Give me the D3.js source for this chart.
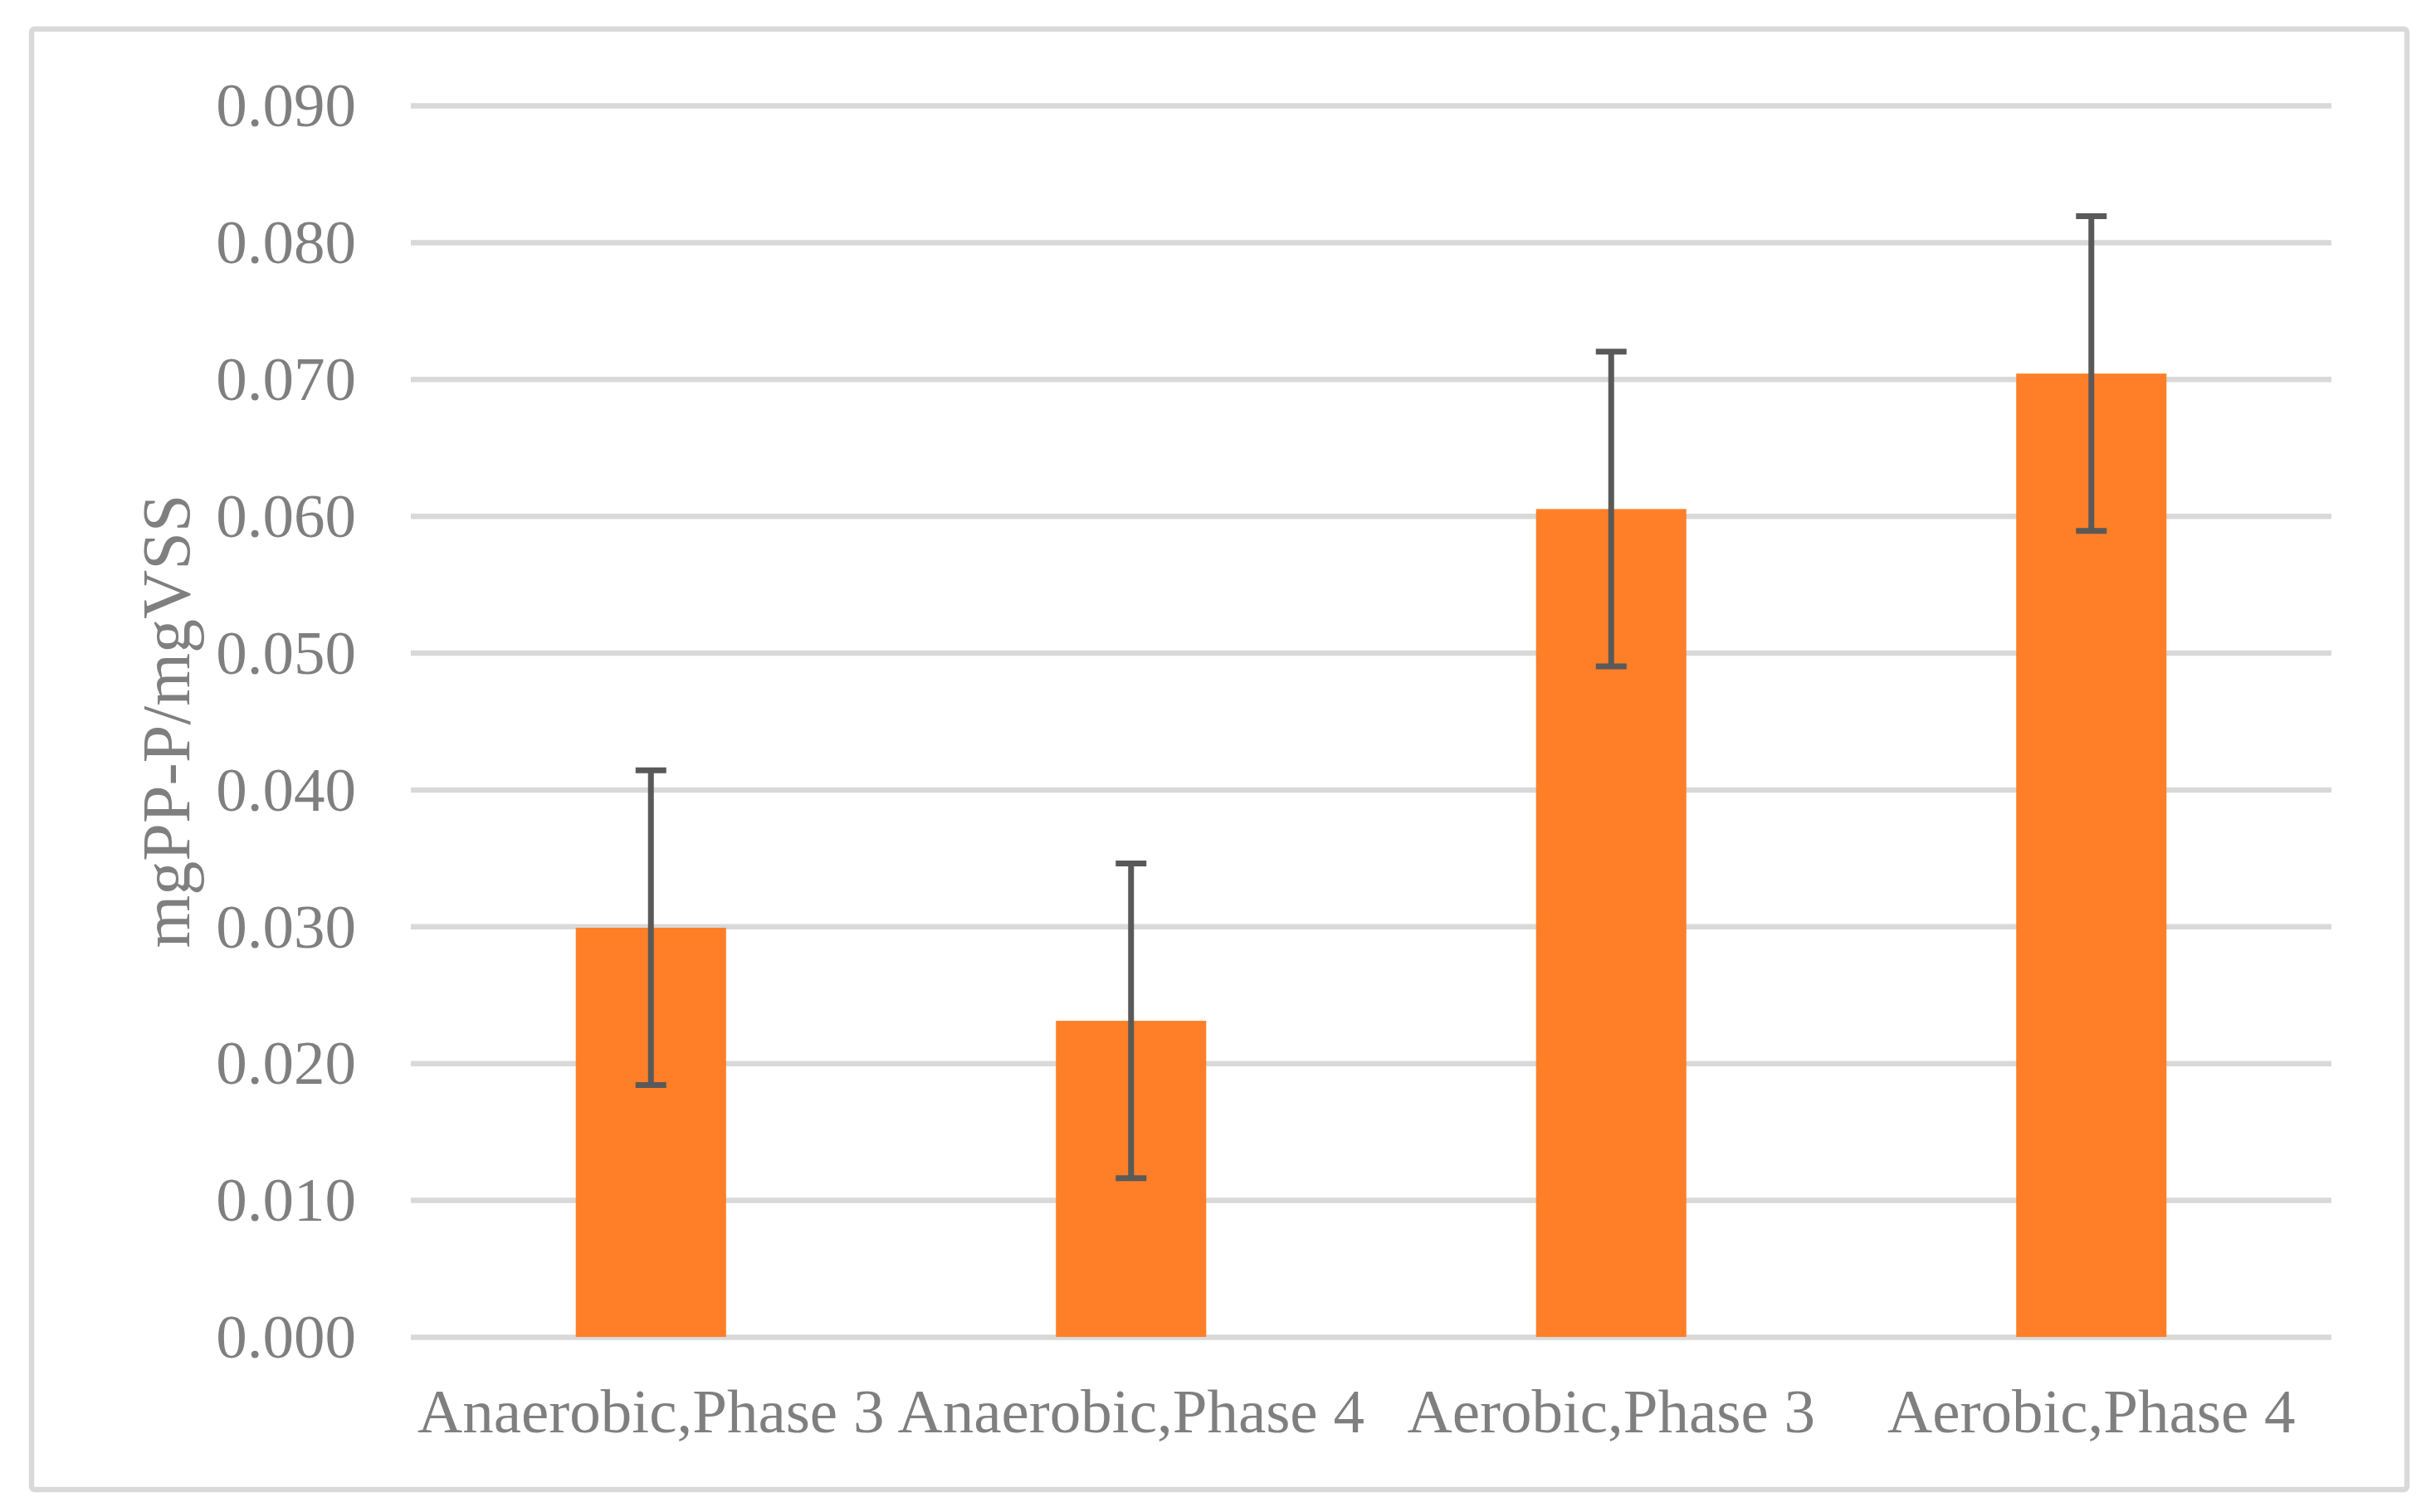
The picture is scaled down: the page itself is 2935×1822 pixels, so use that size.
<!DOCTYPE html>
<html>
<head>
<meta charset="utf-8">
<script src="https://cdn.jsdelivr.net/npm/d3@7"></script>
<style>
  html, body { margin: 0; padding: 0; background: #ffffff; }
  svg { display: block; }
</style>
</head>
<body>
<svg id="chart" width="2935" height="1822"></svg>
<script>
// ---- data ----
const categories = ["Anaerobic,Phase 3", "Anaerobic,Phase 4", "Aerobic,Phase 3", "Aerobic,Phase 4"];
const values = [0.0299, 0.0231, 0.0605, 0.0704];
const errors = [0.0115, 0.0115, 0.0115, 0.0115];
const yTicks = [0, 0.01, 0.02, 0.03, 0.04, 0.05, 0.06, 0.07, 0.08, 0.09];
const yTitle = "mgPP-P/mgVSS";

// ---- layout ----
const W = 2935, H = 1822;
const plot = { left: 495, right: 2809, top: 127, bottom: 1611 };
const font = "'Liberation Serif', 'Times New Roman', serif";
const textColor = "#7f7f7f";
const gridColor = "#d9d9d9";
const barColor = "#fe7f28";
const errColor = "#595959";

const svg = d3.select("#chart");

// outer border
svg.append("rect")
  .attr("x", 38).attr("y", 35)
  .attr("width", 2900 - 38).attr("height", 1795 - 35)
  .attr("rx", 4)
  .attr("fill", "#ffffff")
  .attr("stroke", gridColor)
  .attr("stroke-width", 6.5);

const x = d3.scaleBand()
  .domain(categories)
  .range([plot.left, plot.right])
  .paddingInner(0.687)
  .paddingOuter(0.3435);

const y = d3.scaleLinear()
  .domain([0, 0.09])
  .range([plot.bottom, plot.top]);

// y axis with gridlines
const yAxis = svg.append("g")
  .attr("transform", `translate(${plot.left},0)`)
  .call(d3.axisLeft(y)
    .tickValues(yTicks)
    .tickFormat(d3.format(".3f"))
    .tickSize(-(plot.right - plot.left))
    .tickPadding(66));
yAxis.select(".domain").remove();
yAxis.selectAll(".tick line")
  .attr("stroke", gridColor)
  .attr("stroke-width", 6.5);
yAxis.selectAll(".tick text")
  .attr("fill", textColor)
  .attr("font-family", font)
  .attr("font-size", 75)
  .attr("dy", "0.33em");

// bars
svg.append("g").selectAll("rect")
  .data(categories)
  .join("rect")
  .attr("x", d => x(d))
  .attr("y", (d, i) => y(values[i]))
  .attr("width", x.bandwidth())
  .attr("height", (d, i) => y(0) - y(values[i]))
  .attr("fill", barColor);

// error bars
const capW = 37;
const eg = svg.append("g")
  .attr("stroke", errColor)
  .attr("stroke-width", 7)
  .attr("fill", "none");
categories.forEach((c, i) => {
  const cx = x(c) + x.bandwidth() / 2;
  const hi = y(values[i] + errors[i]);
  const lo = y(values[i] - errors[i]);
  eg.append("line").attr("x1", cx).attr("x2", cx).attr("y1", hi).attr("y2", lo);
  eg.append("line").attr("x1", cx - capW / 2).attr("x2", cx + capW / 2).attr("y1", hi).attr("y2", hi);
  eg.append("line").attr("x1", cx - capW / 2).attr("x2", cx + capW / 2).attr("y1", lo).attr("y2", lo);
});

// x axis labels
const xAxis = svg.append("g")
  .attr("transform", `translate(0,${plot.bottom})`)
  .call(d3.axisBottom(x).tickSize(0));
xAxis.select(".domain").remove();
xAxis.selectAll(".tick text")
  .attr("fill", textColor)
  .attr("font-family", font)
  .attr("font-size", 75)
  .attr("y", 115)
  .attr("dy", 0);

// y title
svg.append("text")
  .attr("transform", `translate(228,${(plot.top + plot.bottom) / 2}) rotate(-90)`)
  .attr("text-anchor", "middle")
  .attr("fill", textColor)
  .attr("font-family", font)
  .attr("font-size", 82)
  .text(yTitle);
</script>
</body>
</html>
